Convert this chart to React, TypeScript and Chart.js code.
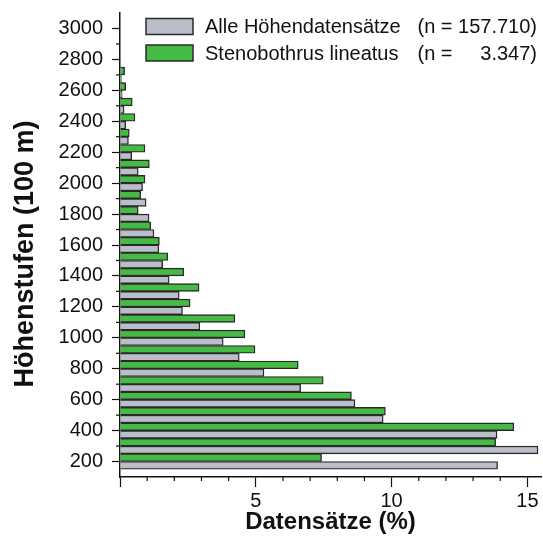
import React, { useEffect, useRef } from "react";
import { Chart, registerables } from "chart.js";

Chart.register(...registerables);

const altitudes = [200, 300, 400, 500, 600, 700, 800, 900, 1000, 1100, 1200, 1300, 1400, 1500, 1600, 1700, 1800, 1900, 2000, 2100, 2200, 2300, 2400, 2500, 2600, 2700, 2800, 2900, 3000];

const alleValues = [13.9, 15.39, 13.88, 9.69, 8.65, 6.65, 5.3, 4.39, 3.8, 2.94, 2.3, 2.18, 1.81, 1.57, 1.43, 1.25, 1.07, 0.96, 0.83, 0.67, 0.43, 0.31, 0.21, 0.15, 0.08, 0.05, 0.03, null, null];

const stenoValues = [7.42, 13.83, 14.5, 9.77, 8.52, 7.48, 6.56, 4.97, 4.6, 4.23, 2.58, 2.91, 2.35, 1.76, 1.45, 1.13, 0.67, 0.76, 0.92, 1.08, 0.92, 0.34, 0.55, 0.45, 0.21, 0.17, null, null, null];

const seriesLabels = ["Alle Höhendatensätze", "Stenobothrus lineatus"];
const seriesCounts = ["157.710)", "3.347)"];
const xTickValues = [0, 5, 10, 15];
const yTickValues = [200, 400, 600, 800, 1000, 1200, 1400, 1600, 1800, 2000, 2200, 2400, 2600, 2800, 3000];
const yTitle = "Höhenstufen (100 m)";
const xTitle = "Datensätze (%)";

const GREY = "#b9bec8";
const GREEN = "#45bb45";
const BORDER = "#2a2a2a";
const FONT = "'Liberation Sans', Arial, sans-serif";

const extrasPlugin = {
  id: "extras",
  afterDraw(chart: any) {
    const ctx = chart.ctx;
    const xs = chart.scales.x;
    const ys = chart.scales.y;
    const area = chart.chartArea;
    ctx.save();
    ctx.strokeStyle = "#111";
    ctx.lineWidth = 1.2;
    // minor ticks y
    altitudes.forEach((a) => {
      if (a % 200 !== 0) {
        const py = ys.getPixelForValue(a);
        ctx.beginPath();
        ctx.moveTo(area.left - 4, py);
        ctx.lineTo(area.left, py);
        ctx.stroke();
      }
    });
    // minor ticks x
    for (let i = 1; i <= 15; i++) {
      if (i % 5 !== 0) {
        const px = xs.getPixelForValue(i);
        ctx.beginPath();
        ctx.moveTo(px, area.bottom);
        ctx.lineTo(px, area.bottom + 4);
        ctx.stroke();
      }
    }
    // y title (rotated)
    ctx.save();
    ctx.translate(26, 254);
    ctx.rotate(-Math.PI / 2);
    ctx.font = `bold 27px ${FONT}`;
    ctx.fillStyle = "#111";
    ctx.textAlign = "center";
    ctx.textBaseline = "middle";
    ctx.fillText(yTitle, 0, 0);
    ctx.restore();
    // legend
    const colors = [GREY, GREEN];
    const rowsY = [26.5, 53];
    ctx.font = `20px ${FONT}`;
    ctx.textBaseline = "middle";
    const rightX = 537;
    const nStart = rightX - ctx.measureText("(n = " + seriesCounts[0]).width;
    seriesLabels.forEach((lab, i) => {
      const cy = rowsY[i];
      ctx.fillStyle = colors[i];
      ctx.fillRect(146, cy - 8, 47, 16);
      ctx.strokeStyle = BORDER;
      ctx.lineWidth = 1.5;
      ctx.strokeRect(146, cy - 8, 47, 16);
      ctx.fillStyle = "#111";
      ctx.textAlign = "left";
      ctx.fillText(lab, 205, cy + 1);
      ctx.fillText("(n =", nStart, cy + 1);
      ctx.textAlign = "right";
      ctx.fillText(seriesCounts[i], rightX, cy + 1);
    });
    ctx.restore();
  },
};

export default function App() {
  const canvasRef = useRef<HTMLCanvasElement | null>(null);

  useEffect(() => {
    document.body.style.margin = "0";
    const canvas = canvasRef.current;
    if (!canvas) return;
    const chart = new Chart(canvas, {
      type: "bar",
      data: {
        datasets: [
          {
            label: seriesLabels[1],
            data: altitudes.map((a, i) => ({ x: stenoValues[i], y: a })),
            backgroundColor: GREEN,
            borderColor: BORDER,
            borderWidth: 1.4,
            categoryPercentage: 1,
            barPercentage: 1,
          },
          {
            label: seriesLabels[0],
            data: altitudes.map((a, i) => ({ x: alleValues[i], y: a })),
            backgroundColor: GREY,
            borderColor: BORDER,
            borderWidth: 1.4,
            categoryPercentage: 1,
            barPercentage: 1,
          },
        ],
      },
      options: {
        indexAxis: "y",
        animation: false,
        responsive: false,
        layout: { padding: { top: 13, right: 2, left: 0, bottom: 0 } },
        plugins: { legend: { display: false }, tooltip: { enabled: false } },
        scales: {
          y: {
            type: "linear",
            min: 100,
            max: 3100,
            offset: false,
            afterBuildTicks: (scale: any) => {
              scale.ticks = yTickValues.map((v) => ({ value: v }));
            },
            afterFit: (scale: any) => {
              scale.width = 120;
              scale.paddingTop = 0;
              scale.paddingBottom = 0;
            },
            ticks: {
              color: "#111",
              padding: 9,
              font: { family: FONT, size: 20 },
              callback: (v: any) => String(v),
            },
            grid: {
              drawOnChartArea: false,
              drawTicks: true,
              tickLength: 8,
              tickColor: "#111",
              tickWidth: 1.2,
              offset: false,
            },
            border: { color: "#111", width: 1.5 },
            title: { display: false, text: yTitle },
          },
          x: {
            type: "linear",
            min: 0,
            max: 15.5,
            afterBuildTicks: (scale: any) => {
              scale.ticks = xTickValues.map((v) => ({ value: v }));
            },
            afterFit: (scale: any) => {
              scale.height = 72;
              scale.paddingLeft = 0;
              scale.paddingRight = 0;
            },
            ticks: {
              color: "#111",
              padding: 2,
              font: { family: FONT, size: 20 },
              callback: (v: any) => (v === 0 ? "" : String(v)),
            },
            grid: {
              drawOnChartArea: false,
              drawTicks: true,
              tickLength: 10,
              tickColor: "#111",
              tickWidth: 1.2,
            },
            border: { color: "#111", width: 1.5 },
            title: {
              display: true,
              text: xTitle,
              color: "#111",
              font: { family: FONT, size: 24, weight: "bold" },
              padding: { top: 0, bottom: 12 },
            },
          },
        },
      },
      plugins: [extrasPlugin],
    } as any);
    return () => chart.destroy();
  }, []);

  return (
    <div style={{ position: "absolute", left: 0, top: 0, width: 543, height: 549, background: "#fff" }}>
      <canvas ref={canvasRef} width={543} height={549} style={{ width: 543, height: 549 }} />
    </div>
  );
}
